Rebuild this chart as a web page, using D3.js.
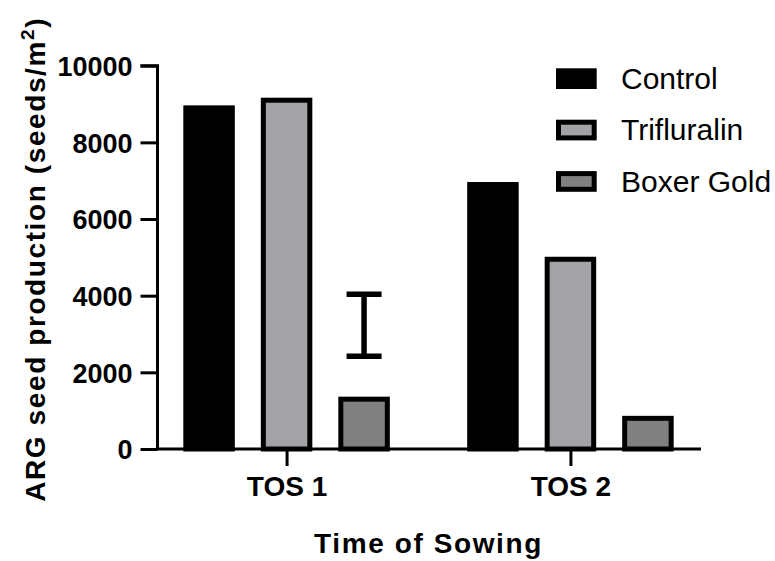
<!DOCTYPE html>
<html>
<head>
<meta charset="utf-8">
<script src="https://cdn.jsdelivr.net/npm/d3@7"></script>
<style>
  html, body { margin: 0; padding: 0; background: #fff; }
  svg { display: block; }
  text { font-family: "Liberation Sans", Arial, sans-serif; fill: #000; }
</style>
</head>
<body>
<svg id="chart" width="775" height="561"></svg>
<script>
// ---- data ----
const categories = ["TOS 1", "TOS 2"];
const seriesNames = ["Control", "Trifluralin", "Boxer Gold"];
const seriesColors = ["#000000", "#a3a3a7", "#808080"];
const controlValues = [8900, 6900];
const trifluralinValues = [9100, 4950];
const boxerGoldValues = [1300, 800];
// floating error bar drawn in the reference (Boxer Gold, TOS 1)
const errorBarLow = [2420, null];
const errorBarHigh = [4040, null];
const yTicks = [0, 2000, 4000, 6000, 8000, 10000];
const yTitle = "ARG seed production (seeds/m";
const xTitle = "Time of Sowing";

const seriesValues = [controlValues, trifluralinValues, boxerGoldValues];

// ---- layout ----
const svg = d3.select("#chart");
const x0Left = 156, x0Right = 701;
const yTop = 65.7, yBottom = 449;
const barStroke = 5;

const y = d3.scaleLinear().domain([0, 10000]).range([yBottom, yTop]);
const x0 = d3.scalePoint().domain(categories).range([x0Left, x0Right]).padding(0.46);
const x1 = d3.scaleBand().domain(seriesNames).range([-116.25, 116.25])
  .paddingInner(0.4).paddingOuter(0.2);

// bars
const rows = [];
categories.forEach((c, ci) => {
  seriesNames.forEach((s, si) => {
    rows.push({ cat: c, series: s, value: seriesValues[si][ci], color: seriesColors[si] });
  });
});

svg.append("g").selectAll("rect").data(rows).join("rect")
  .attr("x", d => x0(d.cat) + x1(d.series))
  .attr("width", x1.bandwidth())
  .attr("y", d => y(d.value))
  .attr("height", d => y(0) - y(d.value))
  .attr("fill", d => d.color)
  .attr("stroke", "#000")
  .attr("stroke-width", barStroke);

// error bar
const ebData = categories.map((c, i) => ({ cat: c, lo: errorBarLow[i], hi: errorBarHigh[i] }))
  .filter(d => d.lo != null);
const eb = svg.append("g").attr("stroke", "#000").attr("stroke-width", 5.5);
ebData.forEach(d => {
  const cx = x0(d.cat) + x1("Boxer Gold") + x1.bandwidth() / 2;
  eb.append("line").attr("x1", cx).attr("x2", cx).attr("y1", y(d.hi)).attr("y2", y(d.lo));
  eb.append("line").attr("x1", cx - 17.5).attr("x2", cx + 17.5).attr("y1", y(d.hi)).attr("y2", y(d.hi));
  eb.append("line").attr("x1", cx - 17.5).attr("x2", cx + 17.5).attr("y1", y(d.lo)).attr("y2", y(d.lo));
});

// y axis
const yAxis = d3.axisLeft(y).tickValues(yTicks).tickSize(17).tickPadding(8).tickFormat(d3.format("d"));
const yg = svg.append("g").attr("transform", `translate(${x0Left + 1.5},0)`).call(yAxis);
yg.select(".domain").attr("stroke-width", 3).attr("d", `M-17,${yTop}H0V${yBottom}`);
yg.selectAll(".tick line").attr("stroke-width", 3);
yg.selectAll(".tick text")
  .attr("font-size", 27).attr("font-weight", "bold")
  .attr("font-family", "'Liberation Sans', Arial, sans-serif").attr("dy", "0.36em");

// x axis
const xAxis = d3.axisBottom(x0).tickSize(17).tickPadding(10);
const xg = svg.append("g").attr("transform", `translate(0,${yBottom})`).call(xAxis);
xg.select(".domain").attr("stroke-width", 3).attr("d", `M${x0Left},0H${x0Right}`);
xg.selectAll(".tick line").attr("stroke-width", 3);
xg.selectAll(".tick text")
  .attr("font-size", 28).attr("font-weight", "bold")
  .attr("font-family", "'Liberation Sans', Arial, sans-serif");

// axis titles
svg.append("text")
  .attr("transform", `translate(45,${(yTop + yBottom) / 2 + 2}) rotate(-90)`)
  .attr("text-anchor", "middle")
  .attr("font-size", 28).attr("font-weight", "bold")
  .attr("letter-spacing", 1.6)
  .call(t => {
    t.append("tspan").text(yTitle);
    t.append("tspan").attr("dy", -11).attr("font-size", 19).text("2");
    t.append("tspan").attr("dy", 11).text(")");
  });

svg.append("text")
  .attr("x", (x0Left + x0Right) / 2)
  .attr("y", 553)
  .attr("text-anchor", "middle")
  .attr("font-size", 28).attr("font-weight", "bold")
  .attr("letter-spacing", 1.6)
  .text(xTitle);

// legend
const lg = svg.append("g");
seriesNames.forEach((s, i) => {
  const yy = 70.8 + i * 51.4;
  lg.append("rect")
    .attr("x", 558.5).attr("y", yy).attr("width", 35.7).attr("height", 15.7)
    .attr("fill", seriesColors[i]).attr("stroke", "#000").attr("stroke-width", 5);
  lg.append("text")
    .attr("x", 621).attr("y", yy + 18.2)
    .attr("font-size", 30)
    .text(s);
});
</script>
</body>
</html>
